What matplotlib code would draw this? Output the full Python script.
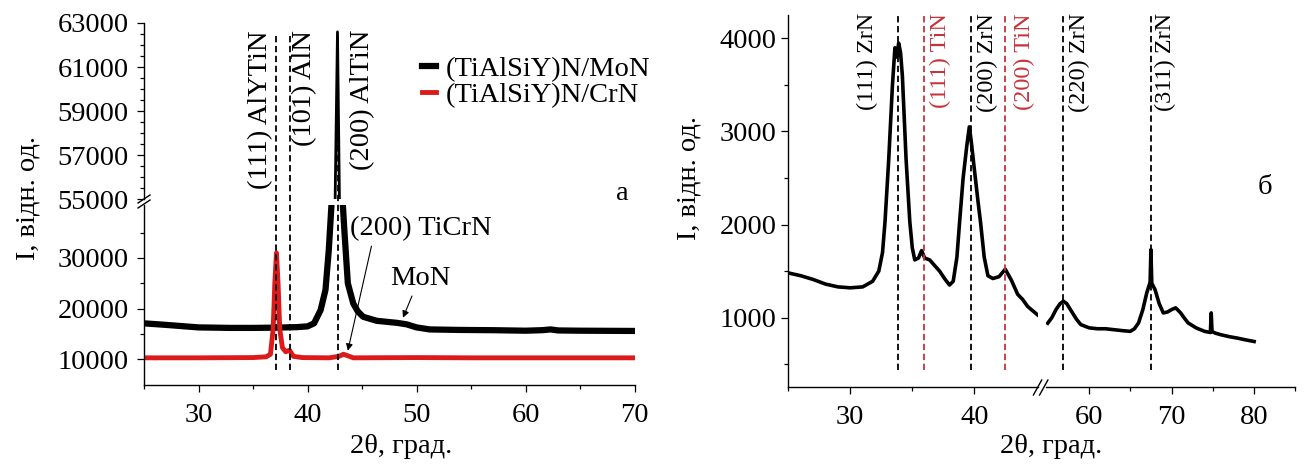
import numpy as np
import matplotlib
matplotlib.use("Agg")
import matplotlib.pyplot as plt

plt.rcParams['font.family'] = ['Liberation Serif', 'DejaVu Serif']
plt.rcParams['font.size'] = 20.5

# ---------------- Datos: panel a ----------------
tt_mon = [25, 27, 30, 33, 35, 37, 39, 40, 40.6, 41.2, 41.65, 41.95, 42.2, 42.45,
          42.75, 43.0, 43.2, 43.4, 43.7, 44.2, 44.6, 45.1, 46.35, 47.5, 48.2,
          49.1, 50.0, 51.2, 54, 57, 60, 61.5, 62.3, 63, 65, 70]
i_mon = [17100, 16800, 16300, 16200, 16200, 16250, 16350, 16500, 17100, 19700,
         23700, 31500, 40500, 52000, 62600, 52000, 42000, 34800, 25000, 21000,
         19500, 18400, 17600, 17350, 17200, 16900, 16300, 15900, 15800, 15750,
         15650, 15750, 15900, 15700, 15650, 15600]

tt_crn = [25, 30, 35, 36.2, 36.6, 36.85, 37.0, 37.15, 37.3, 37.45, 37.7, 38.0,
          38.35, 38.7, 39.5, 42, 42.9, 43.3, 43.7, 44.2, 50, 55, 60, 65, 70]
i_crn = [10300, 10300, 10350, 10500, 11000, 16000, 25000, 31000, 25000, 16000,
         12300, 11500, 11800, 10600, 10350, 10300, 10600, 11000, 10700, 10300,
         10350, 10300, 10300, 10300, 10300]

lineas_a = [37.14, 38.37, 42.8]
etiquetas_a = ['(111) AlYTiN', '(101) AlN', '(200) AlTiN']

# ---------------- Datos: panel б ----------------
tt_b1 = [25.0, 26.0, 27.0, 28.0, 29.0, 30.0, 31.0, 31.8, 32.3, 32.6, 32.8, 33.1,
         33.4, 33.6, 33.75, 33.9, 34.05, 34.2, 34.5, 34.8, 35.0, 35.2, 35.5,
         35.75, 36.0, 36.4, 36.8, 37.2, 37.6, 38.0, 38.3, 38.6, 38.8, 39.1, 39.4,
         39.6, 39.75, 40.0, 40.3, 40.5, 40.8, 41.1, 41.5, 42.0, 42.5, 43.0, 43.5,
         43.9, 44.3, 44.6, 45.1]
i_b1 = [1480, 1450, 1410, 1360, 1330, 1320, 1330, 1390, 1500, 1700, 2030, 2700,
        3500, 3900, 3800, 3950, 3850, 3600, 2700, 2030, 1750, 1620, 1640, 1720,
        1640, 1620, 1560, 1500, 1420, 1350, 1390, 1650, 2000, 2500, 2850, 3050,
        2900, 2600, 2250, 2030, 1650, 1450, 1420, 1440, 1520, 1400, 1250, 1195,
        1120, 1086, 1030]

tt_b2 = [55.0, 55.5, 56.0, 56.5, 56.9, 57.3, 58.0, 58.5, 59.0, 60.0, 61.0, 62.0,
         63.0, 64.0, 65.0, 65.5, 66.0, 66.5, 67.0, 67.4, 67.5, 67.6, 68.0, 68.5,
         69.0, 69.5, 70.0, 70.5, 71.1, 71.5, 72.0, 73.0, 74.0, 74.7, 74.8, 74.9,
         75.3, 76.0, 77.0, 78.0, 79.0, 80.0]
i_b2 = [940, 1000, 1086, 1150, 1176, 1150, 1050, 980, 925, 890, 880, 880, 870,
        860, 852, 880, 943, 1080, 1267, 1380, 1730, 1370, 1300, 1150, 1050, 1060,
        1086, 1105, 1050, 1000, 943, 888, 852, 840, 1050, 850, 833, 815, 795, 779,
        760, 743]

lineas_b = [33.87, 35.97, 39.73, 42.5, 56.86, 67.5]
etiquetas_b = ['(111) ZrN', '(111) TiN', '(200) ZrN', '(200) TiN', '(220) ZrN', '(311) ZrN']
colores_b = ['black', '#c8323a', 'black', '#c8323a', 'black', 'black']

rojo = '#dd1a1a'
guiones = (0, (3.5, 2))

fig = plt.figure(figsize=(13.07, 4.65), dpi=100)

ax_lo = fig.add_axes([0.11018, 0.17269, 0.37529, 0.38602])
ax_hi = fig.add_axes([0.11018, 0.57097, 0.37529, 0.37957])
ax_b1 = fig.add_axes([0.60314, 0.16774, 0.19105, 0.8])
ax_b2 = fig.add_axes([0.80031, 0.16774, 0.19082, 0.8])

for ax in (ax_lo, ax_hi, ax_b1, ax_b2):
    ax.spines['top'].set_visible(False)
    ax.spines['right'].set_visible(False)
    for s in ax.spines.values():
        s.set_linewidth(1.0)
    ax.tick_params(which='major', direction='out', length=5, width=0.9)
    ax.tick_params(which='minor', direction='out', length=3, width=0.9)
    ax.tick_params(axis='x', which='major', pad=8)
    ax.tick_params(axis='y', which='major', pad=6)

# ---- panel a ----
for ax, lw in ((ax_lo, 4.5), (ax_hi, 2.0)):
    ax.plot(tt_mon, i_mon, color='black', lw=lw, label='(TiAlSiY)N/MoN')
    ax.plot(tt_crn, i_crn, color=rojo, lw=3.5, label='(TiAlSiY)N/CrN')
    ax.set_xlim(25, 70)

ax_lo.set_ylim(5000, 40400)
ax_lo.set_yticks([10000, 20000, 30000])
ax_lo.set_yticks([15000, 25000, 35000], minor=True)
ax_lo.set_xticks([30, 40, 50, 60, 70])
ax_lo.set_xticks([25, 35, 45, 55, 65], minor=True)

ax_hi.set_ylim(55000, 63000)
ax_hi.set_yticks(np.arange(55000, 63001, 2000))
ax_hi.set_yticks(np.arange(55500, 63000, 500), minor=True)
ax_hi.spines['bottom'].set_visible(False)
ax_hi.tick_params(axis='x', which='both', bottom=False, labelbottom=False)
ax_hi.patch.set_alpha(0)

ax_lo.vlines(lineas_a, 0.082, 1.959, transform=ax_lo.get_xaxis_transform(),
             colors='black', lw=1.3, linestyles=[guiones], clip_on=False, zorder=4)
desp_a = [(-2.2, 'right'), (2.0, 'left'), (8.6, 'left')]
for x, txt, (dx, ha) in zip(lineas_a, etiquetas_a, desp_a):
    ax_lo.annotate(txt, xy=(x, 1.976), xycoords=ax_lo.get_xaxis_transform(),
                   xytext=(dx, 0), textcoords='offset points',
                   rotation=90, ha=ha, va='top', fontsize=20.5)

# marca de corte del eje y
for y0 in (1.0123, 0.9844):
    ax_lo.plot([-0.0122, 0.0122], [y0, y0 + 0.0445], transform=ax_lo.transAxes,
               color='black', lw=1.0, clip_on=False)

flecha = dict(arrowstyle='-|>', color='black', lw=0.8, mutation_scale=10,
              shrinkA=2, shrinkB=0)
ax_lo.annotate('(200) TiCrN', xy=(43.7, 11700), xytext=(43.9, 33400),
               ha='left', va='bottom', fontsize=20.5,
               arrowprops=dict(flecha, relpos=(0.16, 0)))
ax_lo.annotate('MoN', xy=(48.76, 18200), xytext=(47.57, 24730),
               ha='left', va='baseline', fontsize=20.5,
               arrowprops=dict(flecha, relpos=(0.4, 0)))

h = ax_lo.get_lines()[:2]
ax_lo.legend(handles=h, loc='upper left', bbox_to_anchor=(0.3229, 0.8796),
             bbox_transform=fig.transFigure, frameon=False, handlelength=0.5,
             handletextpad=0.35, borderpad=0, borderaxespad=0,
             labelspacing=0.0, fontsize=20.5)

fig.text(0.4759, 0.5849, 'а', ha='center', va='center', fontsize=20.5)
fig.text(0.0217, 0.5742, 'I, відн. од.', rotation=90, ha='center', va='center')
fig.text(0.3068, 0.0258, '2θ, град.', ha='center', va='baseline')

# ---- panel б ----
ax_b1.plot(tt_b1, i_b1, color='black', lw=2.6)
ax_b2.plot(tt_b2, i_b2, color='black', lw=2.6)
ax_b1.set_xlim(25, 45.14)
ax_b2.set_xlim(54.79, 85.0)
for ax in (ax_b1, ax_b2):
    ax.set_ylim(254, 4252)
ax_b1.set_yticks([1000, 2000, 3000, 4000])
ax_b1.set_yticks([500, 1500, 2500, 3500], minor=True)
ax_b1.tick_params(axis='y', which='major', pad=3.5)
ax_b1.set_xticks([30, 40])
ax_b1.set_xticks([25, 35], minor=True)
ax_b2.set_xticks([60, 70, 80])
ax_b2.set_xticks([65, 75, 85], minor=True)
ax_b2.spines['left'].set_visible(False)
ax_b2.tick_params(axis='y', which='both', left=False, labelleft=False)

desp_b = [(-14.6, 'right'), (4, 'left'), (4, 'left'), (6, 'left'), (4, 'left'), (3, 'left')]
for x, txt, c, (dx, ha) in zip(lineas_b, etiquetas_b, colores_b, desp_b):
    ax = ax_b1 if x < 50 else ax_b2
    ax.vlines(x, 0.046, 1.0, transform=ax.get_xaxis_transform(), colors=c,
              lw=1.3, linestyles=[guiones], clip_on=False, zorder=4)
    ax.annotate(txt, xy=(x, 1.005), xycoords=ax.get_xaxis_transform(),
                xytext=(dx, 0), textcoords='offset points', color=c,
                rotation=90, ha=ha, va='top', fontsize=17.5)

# marca de corte del eje x
for x0 in (-0.0505, -0.0257):
    ax_b2.plot([x0, x0 + 0.0333], [-0.0215, 0.0188], transform=ax_b2.transAxes,
               color='black', lw=1.0, clip_on=False)

fig.text(0.9675, 0.5957, 'б', ha='center', va='center', fontsize=20.5)
fig.text(0.5272, 0.617, 'I, відн. од.', rotation=90, ha='center', va='center')
fig.text(0.8042, 0.0258, '2θ, град.', ha='center', va='baseline')

fig.savefig('out.png', dpi=100)
